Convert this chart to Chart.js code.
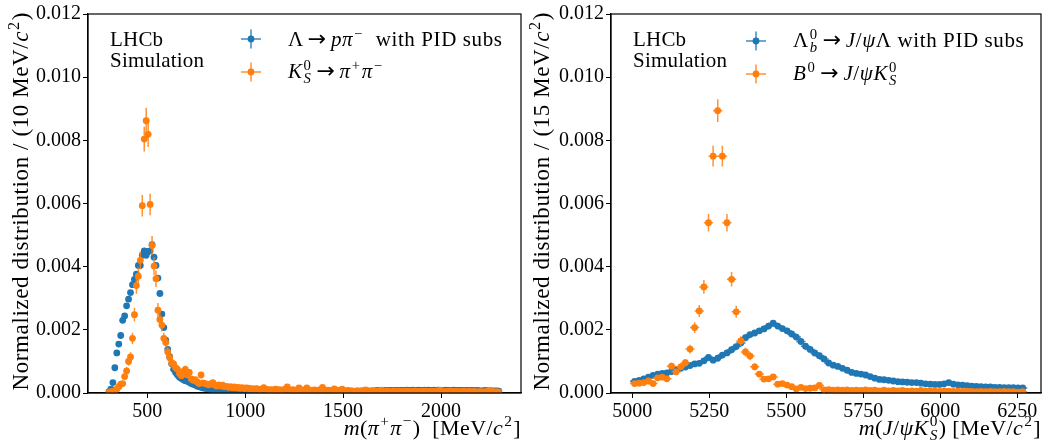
<!DOCTYPE html>
<html>
<head>
<meta charset="utf-8">
<script src="https://cdn.jsdelivr.net/npm/chart.js@4.4.1/dist/chart.umd.min.js"></script>
<style>
  html, body { margin: 0; padding: 0; background: #fff; }
  #wrap { position: relative; width: 1045px; height: 444px; overflow: hidden; background: #fff; }
  canvas { position: absolute; top: 0; }
  #cL { left: 0; }
  #cR { left: 525px; }
</style>
</head>
<body>
<div id="wrap">
  <canvas id="cL" width="525" height="444"></canvas>
  <canvas id="cR" width="520" height="444"></canvas>
</div>
<script>
// ---------------- m(pi+ pi-) histograms, 10 MeV bins starting at 300 MeV ----------------
const pipiBinWidth = 10;
const pipiFirstCentre = 305;

// Lambda -> p pi- with PID substitution
const lambdaPiPi = [
  0.00004,0.00012,0.00033,0.00080,0.00127,0.00155,0.00182,0.00230,0.00244,0.00276,
  0.00297,0.00318,0.00343,0.00360,0.00376,0.00404,0.00404,0.00436,0.00450,0.00436,
  0.00448,0.00450,0.00470,0.00430,0.00404,0.00364,0.00315,0.00250,0.00207,0.00167,
  0.00138,0.00115,0.00093,0.00075,0.00065,0.00057,0.00050,0.00046,0.00042,0.00039,
  0.00037,0.00034,0.00030,0.00028,0.00025,0.00022,0.00020,0.00018,0.00016,0.00015,
  0.00014,0.00013,0.00012,0.00011,0.00010,0.00009,0.00008,0.00008,0.00007,0.00006,
  0.00006,0.00005,0.00005,0.00004,0.00004,0.00004,0.00003,0.00003,0.00003,0.00003,
  0.00003,0.00002,0.00003,0.00003,0.00002,0.00003,0.00003,0.00003,0.00002,0.00003,
  0.00002,0.00003,0.00002,0.00002,0.00003,0.00002,0.00003,0.00003,0.00002,0.00003,
  0.00003,0.00003,0.00003,0.00004,0.00003,0.00003,0.00004,0.00003,0.00004,0.00004,
  0.00004,0.00003,0.00004,0.00004,0.00004,0.00005,0.00004,0.00004,0.00005,0.00004,
  0.00005,0.00004,0.00005,0.00005,0.00005,0.00004,0.00005,0.00005,0.00005,0.00006,
  0.00005,0.00006,0.00005,0.00006,0.00006,0.00005,0.00006,0.00006,0.00006,0.00007,
  0.00006,0.00007,0.00007,0.00006,0.00007,0.00007,0.00007,0.00008,0.00007,0.00007,
  0.00007,0.00008,0.00007,0.00008,0.00008,0.00007,0.00008,0.00008,0.00008,0.00008,
  0.00008,0.00008,0.00009,0.00008,0.00008,0.00009,0.00008,0.00008,0.00009,0.00008,
  0.00008,0.00009,0.00008,0.00009,0.00008,0.00008,0.00009,0.00008,0.00009,0.00008,
  0.00008,0.00008,0.00009,0.00008,0.00008,0.00008,0.00009,0.00008,0.00008,0.00008,
  0.00008,0.00007,0.00008,0.00008,0.00007,0.00008,0.00008,0.00007,0.00008,0.00007,
  0.00007,0.00007,0.00008,0.00007,0.00007,0.00007,0.00006,0.00007,0.00007,0.00006
];

// K0S -> pi+ pi-
const ksPiPi = [
  0.00002,0.00004,0.00005,0.00007,0.00012,0.00020,0.00028,0.00030,0.00052,0.00070,
  0.00100,0.00114,0.00173,0.00248,0.00340,0.00370,0.00420,0.00593,0.00804,0.00862,
  0.00819,0.00597,0.00467,0.00402,0.00362,0.00262,0.00233,0.00215,0.00173,0.00160,
  0.00130,0.00112,0.00095,0.00092,0.00080,0.00075,0.00062,0.00055,0.00068,0.00075,
  0.00058,0.00065,0.00045,0.00040,0.00042,0.00035,0.00030,0.00057,0.00032,0.00030,
  0.00028,0.00026,0.00029,0.00033,0.00025,0.00022,0.00026,0.00022,0.00025,0.00020,
  0.00021,0.00018,0.00020,0.00017,0.00019,0.00016,0.00018,0.00015,0.00017,0.00014,
  0.00016,0.00015,0.00013,0.00014,0.00012,0.00014,0.00013,0.00011,0.00012,0.00017,
  0.00012,0.00011,0.00010,0.00011,0.00009,0.00012,0.00010,0.00011,0.00009,0.00010,
  0.00012,0.00019,0.00010,0.00009,0.00011,0.00008,0.00010,0.00016,0.00009,0.00010,
  0.00009,0.00016,0.00010,0.00008,0.00009,0.00010,0.00008,0.00009,0.00011,0.00018,
  0.00010,0.00008,0.00009,0.00007,0.00008,0.00013,0.00009,0.00007,0.00008,0.00012,
  0.00007,0.00006,0.00008,0.00006,0.00007,0.00005,0.00006,0.00007,0.00005,0.00006,
  0.00007,0.00010,0.00006,0.00005,0.00006,0.00005,0.00007,0.00005,0.00006,0.00009,
  0.00006,0.00005,0.00006,0.00004,0.00005,0.00006,0.00005,0.00004,0.00006,0.00005,
  0.00005,0.00004,0.00006,0.00005,0.00004,0.00005,0.00006,0.00004,0.00005,0.00004,
  0.00005,0.00006,0.00004,0.00005,0.00004,0.00005,0.00004,0.00006,0.00005,0.00009,
  0.00005,0.00004,0.00005,0.00004,0.00006,0.00004,0.00005,0.00004,0.00005,0.00004,
  0.00004,0.00005,0.00004,0.00005,0.00004,0.00004,0.00005,0.00004,0.00003,0.00004,
  0.00004,0.00003,0.00004,0.00005,0.00004,0.00008,0.00004,0.00003,0.00004,0.00003
];
const ksPiPiErr = [
  0.00002,0.00003,0.00003,0.00004,0.00005,0.00006,0.00007,0.00008,0.00010,0.00012,
  0.00014,0.00015,0.00018,0.00022,0.00026,0.00027,0.00028,0.00034,0.00039,0.00041,
  0.00040,0.00034,0.00030,0.00028,0.00026,0.00023,0.00021,0.00020,0.00018,0.00018,
  0.00016,0.00015,0.00014,0.00013,0.00012,0.00012,0.00011,0.00010,0.00011,0.00012,
  0.00011,0.00011,0.00009,0.00009,0.00009,0.00008,0.00008,0.00010,0.00008,0.00008,
  0.00007,0.00007,0.00007,0.00008,0.00007,0.00007,0.00007,0.00007,0.00007,0.00006,
  0.00006,0.00006,0.00006,0.00006,0.00006,0.00006,0.00006,0.00005,0.00006,0.00005,
  0.00006,0.00005,0.00005,0.00005,0.00005,0.00005,0.00005,0.00005,0.00005,0.00006,
  0.00005,0.00005,0.00004,0.00005,0.00004,0.00005,0.00004,0.00005,0.00004,0.00004,
  0.00005,0.00006,0.00004,0.00004,0.00005,0.00004,0.00004,0.00006,0.00004,0.00004,
  0.00004,0.00006,0.00004,0.00004,0.00004,0.00004,0.00004,0.00004,0.00005,0.00006,
  0.00004,0.00004,0.00004,0.00004,0.00004,0.00005,0.00004,0.00004,0.00004,0.00005,
  0.00004,0.00003,0.00004,0.00003,0.00004,0.00003,0.00003,0.00004,0.00003,0.00003,
  0.00004,0.00004,0.00003,0.00003,0.00003,0.00003,0.00004,0.00003,0.00003,0.00004,
  0.00003,0.00003,0.00003,0.00003,0.00003,0.00003,0.00003,0.00003,0.00003,0.00003,
  0.00003,0.00003,0.00003,0.00003,0.00003,0.00003,0.00003,0.00003,0.00003,0.00003,
  0.00003,0.00003,0.00003,0.00003,0.00003,0.00003,0.00003,0.00003,0.00003,0.00004,
  0.00003,0.00003,0.00003,0.00003,0.00003,0.00003,0.00003,0.00003,0.00003,0.00003,
  0.00003,0.00003,0.00003,0.00003,0.00003,0.00003,0.00003,0.00003,0.00003,0.00003,
  0.00003,0.00003,0.00003,0.00003,0.00003,0.00004,0.00003,0.00003,0.00003,0.00003
];

// ---------------- m(J/psi K0S) histograms, 15 MeV bins starting at 5000 MeV ----------------
const jpsiBinWidth = 15;
const jpsiFirstCentre = 5007.5;

// Lambda_b -> J/psi Lambda with PID substitution
const lambdabJpsi = [
  0.00037,0.00040,0.00045,0.00050,0.00056,0.00060,0.00062,0.00064,0.00068,0.00073,
  0.00078,0.00082,0.00087,0.00092,0.00094,0.00102,0.00113,0.00104,0.00110,0.00120,
  0.00127,0.00137,0.00147,0.00158,0.00175,0.00185,0.00190,0.00197,0.00203,0.00212,
  0.00221,0.00212,0.00204,0.00197,0.00187,0.00177,0.00163,0.00148,0.00138,0.00127,
  0.00118,0.00108,0.00095,0.00088,0.00084,0.00078,0.00072,0.00065,0.00062,0.00060,
  0.00057,0.00052,0.00047,0.00043,0.00042,0.00040,0.00038,0.00036,0.00035,0.00034,
  0.00033,0.00033,0.00031,0.00029,0.00028,0.00027,0.00027,0.00029,0.00033,0.00028,
  0.00026,0.00025,0.00023,0.00022,0.00021,0.00020,0.00019,0.00019,0.00018,0.00018,
  0.00017,0.00017,0.00017,0.00016,0.00016
];

// B0 -> J/psi K0S
const b0Jpsi = [
  0.00030,0.00031,0.00033,0.00038,0.00030,0.00048,0.00050,0.00045,0.00085,0.00067,
  0.00083,0.00096,0.00139,0.00207,0.00260,0.00336,0.00539,0.00750,0.00894,0.00750,
  0.00539,0.00360,0.00257,0.00165,0.00130,0.00117,0.00083,0.00060,0.00044,0.00045,
  0.00051,0.00028,0.00030,0.00025,0.00020,0.00013,0.00018,0.00014,0.00015,0.00016,
  0.00024,0.00010,0.00011,0.00009,0.00010,0.00009,0.00010,0.00008,0.00009,0.00008,
  0.00010,0.00008,0.00009,0.00007,0.00009,0.00007,0.00008,0.00007,0.00008,0.00006,
  0.00007,0.00006,0.00008,0.00006,0.00007,0.00006,0.00005,0.00007,0.00006,0.00005,
  0.00006,0.00005,0.00006,0.00005,0.00004,0.00005,0.00004,0.00005,0.00004,0.00004,
  0.00005,0.00004,0.00004,0.00003,0.00004
];
const b0JpsiErr = [
  0.00007,0.00007,0.00007,0.00007,0.00007,0.00008,0.00009,0.00008,0.00011,0.00010,
  0.00011,0.00012,0.00014,0.00017,0.00019,0.00022,0.00028,0.00033,0.00036,0.00033,
  0.00028,0.00023,0.00019,0.00015,0.00014,0.00013,0.00011,0.00009,0.00008,0.00008,
  0.00009,0.00006,0.00007,0.00006,0.00005,0.00004,0.00005,0.00005,0.00005,0.00005,
  0.00006,0.00004,0.00004,0.00004,0.00004,0.00004,0.00004,0.00003,0.00004,0.00003,
  0.00004,0.00003,0.00004,0.00003,0.00004,0.00003,0.00003,0.00003,0.00003,0.00003,
  0.00003,0.00003,0.00003,0.00003,0.00003,0.00003,0.00003,0.00003,0.00003,0.00003,
  0.00003,0.00003,0.00003,0.00003,0.00002,0.00003,0.00002,0.00003,0.00002,0.00002,
  0.00003,0.00002,0.00002,0.00002,0.00002
];

// ---------------- tick labels ----------------
const yTickValues = [0.000, 0.002, 0.004, 0.006, 0.008, 0.010, 0.012];
const pipiTickValues = [500, 1000, 1500, 2000];
const jpsiTickValues = [5000, 5250, 5500, 5750, 6000, 6250];

// ---------------- styling ----------------
const SERIF = "'Liberation Serif', 'DejaVu Serif', serif";
const ARROW_FONT = "'DejaVu Sans', sans-serif";
const BLUE = '#1f77b4', ORANGE = '#ff7f0e';
const BLUE_BAR = 'rgba(31,119,180,0.85)', ORANGE_BAR = 'rgba(255,127,14,0.85)';
const TICK_SIZE = 20, LEGEND_SIZE = 21, TAG_SIZE = 21, XTITLE_SIZE = 22, YTITLE_SIZE = 23;

function font(size, italic) { return (italic ? 'italic ' : '') + size + 'px ' + SERIF; }

// Build point lists from bin centres and values
function points(first, width, values) {
  return values.map((v, i) => ({ x: first + i * width, y: v }));
}

// ---------- small rich-text renderer (italics, super/subscripts, arrows) ----------
function layoutRich(ctx, segs, size, ls) {
  const runs = []; let x = 0;
  ctx.save();
  ctx.letterSpacing = ls + 'px';
  for (const s of segs) {
    if (s.sp) { x += s.sp; continue; }
    if (s.ar) {
      const f = (size * 1.05) + 'px ' + ARROW_FONT;
      ctx.font = f; const w = ctx.measureText('→').width;
      runs.push({ t: '→', f, x, dy: 0 });
      x += w;
      continue;
    }
    if (s.st) {
      const fs = size * 0.7;
      const f0 = font(fs, s.si && s.si[0]), f1 = font(fs, s.si && s.si[1]);
      ctx.font = f0; const w0 = ctx.measureText(s.st[0]).width;
      ctx.font = f1; const w1 = ctx.measureText(s.st[1]).width;
      runs.push({ t: s.st[0], f: f0, x: x + 1, dy: -0.4 * size });
      runs.push({ t: s.st[1], f: f1, x: x + 1, dy: 0.24 * size });
      x += Math.max(w0, w1) + 2;
    } else {
      const small = s.sup || s.sub;
      const f = font(small ? size * 0.7 : size, s.i);
      ctx.font = f; const w = ctx.measureText(s.t).width;
      runs.push({ t: s.t, f, x: x + (small ? 1 : 0), dy: s.sup ? -0.4 * size : (s.sub ? 0.24 * size : 0) });
      x += w + (small ? 2 : 0);
    }
  }
  ctx.restore();
  return { runs, width: x };
}
function drawRich(ctx, segs, x, y, size, align, ls) {
  ls = ls || 0;
  const L = layoutRich(ctx, segs, size, ls);
  const x0 = align === 'right' ? x - L.width : (align === 'center' ? x - L.width / 2 : x);
  ctx.save();
  ctx.letterSpacing = ls + 'px';
  ctx.fillStyle = '#000';
  ctx.textAlign = 'left';
  ctx.textBaseline = 'alphabetic';
  for (const r of L.runs) { ctx.font = r.f; ctx.fillText(r.t, x0 + r.x, y + r.dy); }
  ctx.restore();
}

// ---------- error bars drawn under each dataset's markers ----------
const errorBarPlugin = {
  id: 'errorBars',
  beforeDatasetDraw(chart, args) {
    const ds = chart.data.datasets[args.index];
    if (!ds.yErr && !ds.xErr) return;
    const { ctx, chartArea: a } = chart;
    const xs = chart.scales.x, ys = chart.scales.y;
    ctx.save();
    ctx.beginPath(); ctx.rect(a.left, a.top, a.right - a.left, a.bottom - a.top); ctx.clip();
    ctx.strokeStyle = ds.barColor; ctx.lineWidth = 1.5;
    ctx.beginPath();
    ds.data.forEach((p, i) => {
      const px = xs.getPixelForValue(p.x), py = ys.getPixelForValue(p.y);
      if (ds.yErr) {
        const e = ds.yErr[i];
        ctx.moveTo(px, ys.getPixelForValue(p.y - e)); ctx.lineTo(px, ys.getPixelForValue(p.y + e));
      }
      if (ds.xErr) {
        ctx.moveTo(xs.getPixelForValue(p.x - ds.xErr), py); ctx.lineTo(xs.getPixelForValue(p.x + ds.xErr), py);
      }
    });
    ctx.stroke();
    ctx.restore();
  }
};

function legendHandle(ctx, cx, cy, color, barColor) {
  ctx.save();
  ctx.strokeStyle = barColor; ctx.lineWidth = 1.5;
  ctx.beginPath();
  ctx.moveTo(cx - 10, cy); ctx.lineTo(cx + 10, cy);
  ctx.moveTo(cx, cy - 9.5); ctx.lineTo(cx, cy + 9.5);
  ctx.stroke();
  ctx.fillStyle = color;
  ctx.beginPath(); ctx.arc(cx, cy, 3.4, 0, Math.PI * 2); ctx.fill();
  ctx.restore();
}

// ---------- frame, titles and legend ----------
function decorPlugin(cfg) {
  return {
    id: 'decor',
    afterDatasetsDraw(chart) {
      const { ctx, chartArea: a } = chart;
      ctx.save();
      ctx.strokeStyle = '#000'; ctx.lineWidth = 1.2;
      ctx.strokeRect(a.left, a.top, a.right - a.left, a.bottom - a.top);
      ctx.restore();
    },
    afterDraw(chart) {
      const { ctx, chartArea: a } = chart;
      // experiment tag
      ctx.save();
      ctx.fillStyle = '#000'; ctx.font = font(TAG_SIZE); ctx.letterSpacing = '0.2px';
      ctx.fillText('LHCb', cfg.tagX, 46);
      ctx.fillText('Simulation', cfg.tagX, 67);
      ctx.restore();
      // legend
      cfg.legend.forEach(item => {
        legendHandle(ctx, cfg.handleX, item.hy, item.color, item.bar);
        drawRich(ctx, item.segs, cfg.textX, item.ty, LEGEND_SIZE, 'left', 0.6);
      });
      // x title, right-aligned to the frame
      drawRich(ctx, cfg.xTitle, a.right, 435, XTITLE_SIZE, 'right', 0.4);
      // y title, rotated and aligned to the top of the frame
      ctx.save();
      ctx.translate(cfg.yTitleX, a.top - 2);
      ctx.rotate(-Math.PI / 2);
      drawRich(ctx, cfg.yTitle, 0, 0, YTITLE_SIZE, 'right', 0.6);
      ctx.restore();
    }
  };
}

function makeChart(canvasId, cfg) {
  const tickFont = { family: SERIF, size: TICK_SIZE };
  return new Chart(document.getElementById(canvasId), {
    type: 'scatter',
    data: {
      datasets: [
        {
          label: cfg.legend[0].name, data: cfg.blue, order: 2, clip: 0,
          backgroundColor: BLUE, borderWidth: 0, pointRadius: 3.4,
          xErr: cfg.blueXErr, yErr: null, barColor: BLUE_BAR
        },
        {
          label: cfg.legend[1].name, data: cfg.orange, order: 1, clip: 0,
          backgroundColor: ORANGE, borderWidth: 0, pointRadius: 3.4,
          xErr: cfg.orangeXErr, yErr: cfg.orangeYErr, barColor: ORANGE_BAR
        }
      ]
    },
    options: {
      responsive: false, animation: false, events: [],
      layout: { padding: { top: 13, right: cfg.padRight, bottom: 0, left: 0 } },
      plugins: { legend: { display: false }, tooltip: { enabled: false } },
      scales: {
        x: {
          type: 'linear', min: cfg.xMin, max: cfg.xMax,
          afterBuildTicks: s => { s.ticks = cfg.xTicks.map(v => ({ value: v })); },
          afterFit: s => { s.height = 51; },
          ticks: { font: tickFont, color: '#000', padding: 2, maxRotation: 0, autoSkip: false, callback: v => String(v) },
          grid: { drawOnChartArea: false, drawTicks: true, tickLength: 5, color: '#000', lineWidth: 1 },
          border: { display: true, color: '#000', width: 1.2 }
        },
        y: {
          type: 'linear', min: 0, max: 0.012,
          afterBuildTicks: s => { s.ticks = yTickValues.map(v => ({ value: v })); },
          afterFit: s => { s.width = cfg.yWidth; },
          ticks: { font: tickFont, color: '#000', padding: 2, callback: v => v.toFixed(3) },
          grid: { drawOnChartArea: false, drawTicks: true, tickLength: 5, color: '#000', lineWidth: 1 },
          border: { display: true, color: '#000', width: 1.2 }
        }
      }
    },
    plugins: [errorBarPlugin, decorPlugin(cfg)]
  });
}

const ARROW = [{ sp: 4 }, { ar: 1 }, { sp: 4 }];

makeChart('cL', {
  blue: points(pipiFirstCentre, pipiBinWidth, lambdaPiPi),
  orange: points(pipiFirstCentre, pipiBinWidth, ksPiPi),
  blueXErr: pipiBinWidth, orangeXErr: pipiBinWidth, orangeYErr: ksPiPiErr,
  xMin: 198, xMax: 2408, xTicks: pipiTickValues,
  yWidth: 88, padRight: 3,
  tagX: 110, handleX: 251, textX: 288, yTitleX: 28,
  legend: [
    { name: 'Λ → pπ⁻ with PID subs', color: BLUE, bar: BLUE_BAR, hy: 39, ty: 46,
      segs: [{ t: 'Λ' }, ...ARROW, { t: 'pπ', i: 1 }, { t: '−', sup: 1 }, { t: '  with PID subs' }] },
    { name: 'K⁰S → π⁺π⁻', color: ORANGE, bar: ORANGE_BAR, hy: 72, ty: 78,
      segs: [{ t: 'K', i: 1 }, { st: ['0', 'S'], si: [0, 1] }, ...ARROW, { t: 'π', i: 1 }, { t: '+', sup: 1 }, { t: 'π', i: 1 }, { t: '−', sup: 1 }] }
  ],
  xTitle: [{ t: 'm', i: 1 }, { t: '(' }, { t: 'π', i: 1 }, { t: '+', sup: 1 }, { t: 'π', i: 1 }, { t: '−', sup: 1 }, { t: ')' }, { t: '  [MeV/' }, { t: 'c', i: 1 }, { t: '2', sup: 1 }, { t: ']' }],
  yTitle: [{ t: 'Normalized distribution / (10 MeV/' }, { t: 'c', i: 1 }, { t: '2', sup: 1 }, { t: ')' }]
});

makeChart('cR', {
  blue: points(jpsiFirstCentre, jpsiBinWidth, lambdabJpsi),
  orange: points(jpsiFirstCentre, jpsiBinWidth, b0Jpsi),
  blueXErr: jpsiBinWidth, orangeXErr: jpsiBinWidth, orangeYErr: b0JpsiErr,
  xMin: 4931, xMax: 6327, xTicks: jpsiTickValues,
  yWidth: 86, padRight: 1,
  tagX: 108, handleX: 231, textX: 268, yTitleX: 24,
  legend: [
    { name: 'Λb⁰ → J/ψΛ with PID subs', color: BLUE, bar: BLUE_BAR, hy: 41, ty: 47,
      segs: [{ t: 'Λ' }, { st: ['0', 'b'], si: [0, 1] }, ...ARROW, { t: 'J', i: 1 }, { t: '/' }, { t: 'ψ', i: 1 }, { t: 'Λ with PID subs' }] },
    { name: 'B⁰ → J/ψK⁰S', color: ORANGE, bar: ORANGE_BAR, hy: 74, ty: 80,
      segs: [{ t: 'B', i: 1 }, { t: '0', sup: 1 }, ...ARROW, { t: 'J', i: 1 }, { t: '/' }, { t: 'ψK', i: 1 }, { st: ['0', 'S'], si: [0, 1] }] }
  ],
  xTitle: [{ t: 'm', i: 1 }, { t: '(' }, { t: 'J', i: 1 }, { t: '/' }, { t: 'ψK', i: 1 }, { st: ['0', 'S'], si: [0, 1] }, { t: ')' }, { t: ' [MeV/' }, { t: 'c', i: 1 }, { t: '2', sup: 1 }, { t: ']' }],
  yTitle: [{ t: 'Normalized distribution / (15 MeV/' }, { t: 'c', i: 1 }, { t: '2', sup: 1 }, { t: ')' }]
});
</script>
</body>
</html>
